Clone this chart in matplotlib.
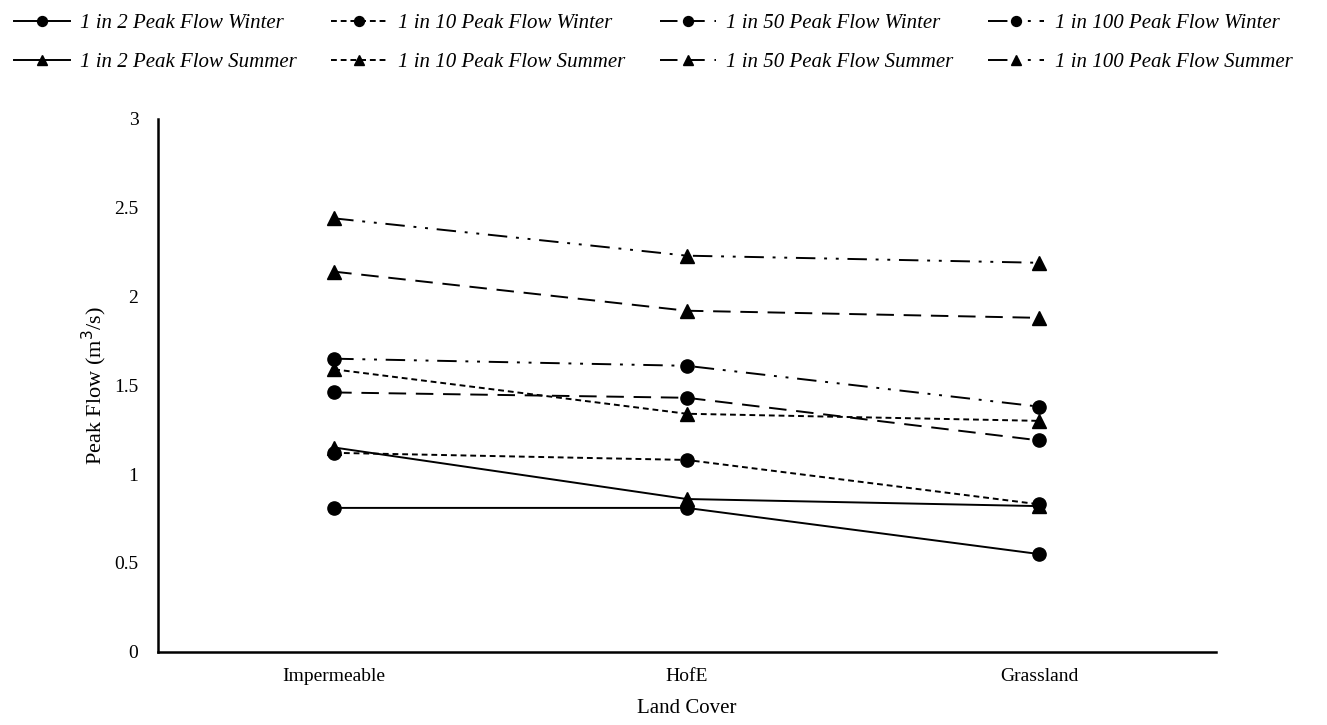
import matplotlib.pyplot as plt

categorias = ['Impermeable', 'HofE', 'Grassland']

w2 = [0.81, 0.81, 0.55]
w10 = [1.12, 1.08, 0.83]
w50 = [1.46, 1.43, 1.19]
w100 = [1.65, 1.61, 1.38]

s2 = [1.15, 0.86, 0.82]
s10 = [1.59, 1.34, 1.30]
s50 = [2.14, 1.92, 1.88]
s100 = [2.44, 2.23, 2.19]

plt.rcParams['font.family'] = ['Liberation Serif', 'DejaVu Serif']

fig = plt.figure(figsize=(13.27, 7.25), dpi=100)
ax = fig.add_axes([0.119, 0.101, 0.797, 0.735])

x = range(len(categorias))

estilos = {
    '2': '-',
    '10': (0, (3, 2)),
    '50': (0, (9, 5)),
    '100': (0, (10, 4.5, 1.5, 4.5, 1.5, 4.5)),
}

series = [
    ('1 in 2 Peak Flow Winter', w2, 'o', estilos['2']),
    ('1 in 2 Peak Flow Summer', s2, '^', estilos['2']),
    ('1 in 10 Peak Flow Winter', w10, 'o', estilos['10']),
    ('1 in 10 Peak Flow Summer', s10, '^', estilos['10']),
    ('1 in 50 Peak Flow Winter', w50, 'o', estilos['50']),
    ('1 in 50 Peak Flow Summer', s50, '^', estilos['50']),
    ('1 in 100 Peak Flow Winter', w100, 'o', estilos['100']),
    ('1 in 100 Peak Flow Summer', s100, '^', estilos['100']),
]

linhas = []
for nome, valores, marcador, estilo in series:
    ms = 9.5 if marcador == 'o' else 10.5
    l, = ax.plot(x, valores, color='black', linestyle=estilo, linewidth=1.4,
                 marker=marcador, markersize=ms, label=nome)
    linhas.append(l)

ax.set_xlim(-0.5, 2.5)
ax.set_ylim(0, 3)
ax.set_yticks([0, 0.5, 1, 1.5, 2, 2.5, 3])
ax.set_yticklabels(['0', '0.5', '1', '1.5', '2', '2.5', '3'])
ax.set_xticks(list(x))
ax.set_xticklabels(categorias)
ax.tick_params(axis='both', length=0, labelsize=14, pad=12)
ax.tick_params(axis='y', pad=14)

for lado in ['top', 'right']:
    ax.spines[lado].set_visible(False)
ax.spines['left'].set_linewidth(1.8)
ax.spines['bottom'].set_linewidth(1.8)

ax.set_ylabel('Peak Flow (m$^3$/s)', fontsize=16, labelpad=4)
ax.set_xlabel('Land Cover', fontsize=15, labelpad=10)

fig.legend(handles=linhas, loc='upper left', bbox_to_anchor=(0.0, 1.0), ncol=4,
           frameon=False, prop={'style': 'italic', 'size': 15},
           handlelength=2.7, handletextpad=0.5, columnspacing=1.65,
           labelspacing=0.94, markerscale=0.75, borderaxespad=0.2, borderpad=0.45)

plt.savefig('out.png', dpi=100)
